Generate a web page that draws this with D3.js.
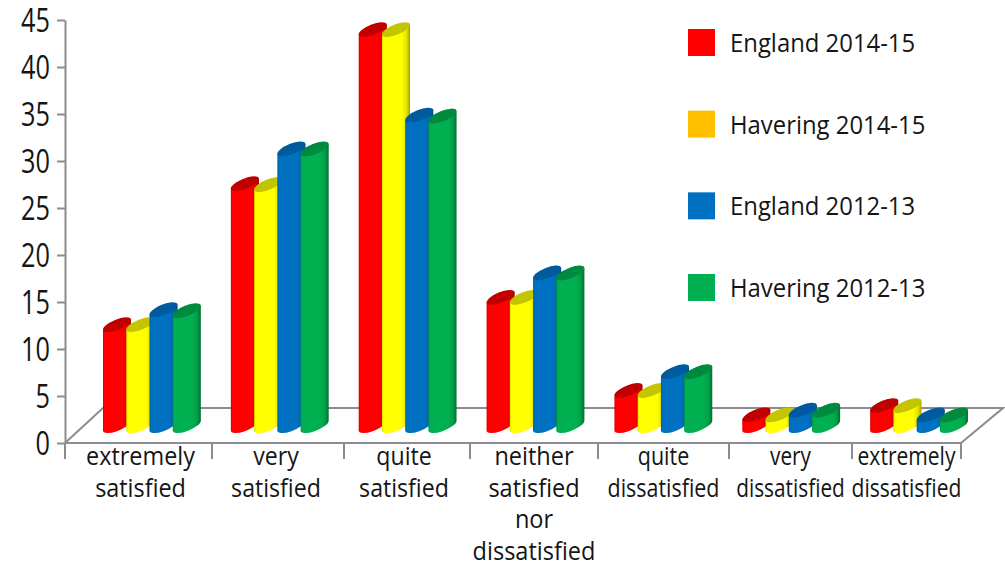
<!DOCTYPE html>
<html><head><meta charset="utf-8"><script src="https://cdn.jsdelivr.net/npm/d3@7"></script>
<style>html,body{margin:0;padding:0;background:#fff}svg{display:block}text{font-family:"Open Sans","Noto Sans",sans-serif;fill:#151515}</style></head><body>
<svg id="c" width="1005" height="563"></svg>
<script>
const categories=[["extremely","satisfied"],["very","satisfied"],["quite","satisfied"],["neither","satisfied","nor","dissatisfied"],["quite","dissatisfied"],["very","dissatisfied"],["extremely","dissatisfied"]];
const seriesNames=["England 2014-15","Havering 2014-15","England 2012-13","Havering 2012-13"];
const england1415=[11.0,26.0,42.4,13.9,4.0,1.4,2.4];
const havering1415=[11.0,25.9,42.4,13.9,4.0,1.4,2.4];
const england1213=[12.6,29.7,33.3,16.5,6.0,1.9,1.4];
const havering1213=[12.5,29.7,33.2,16.5,6.0,1.9,1.4];
const barColors=["#ff0000","#ffff00","#0070c0","#00b050"];
const topColors=["#c00000","#c4c400","#005a9e","#008a40"];
const legendColors=["#ff0000","#ffc000","#0070c0","#00b050"];
const yTicks=[0,5,10,15,20,25,30,35,40,45];
const series=[england1415,havering1415,england1213,havering1213];

const svg=d3.select("#c"), defs=svg.append("defs");
const y=d3.scaleLinear().domain([0,45]).range([443,20]);
const x0=d3.scaleBand().domain(d3.range(7)).range([65,960]);
const x1=d3.scaleBand().domain(d3.range(4)).range([38,131]);
const axisColor="#8c8c90";

// the source axis has uneven category dividers and squeezed labels
const dividers=d3.scaleOrdinal().domain(d3.range(8)).range([65,212,344,470,598,729,852,961]);
const labelNudge=[2,-2,-3,0,0,0,0];
const labelSqueeze=[.9,.89,.89,.905,.825,.80,.81];

series.forEach((s,i)=>{
  const c=d3.color(barColors[i]);
  const g=defs.append("linearGradient").attr("id","g"+i).attr("x1",0).attr("x2",1).attr("y1",0).attr("y2",0);
  [[0,c.darker(.5)],[.06,c],[.7,c],[.88,c.darker(.35)],[1,c.darker(1.3)]].forEach(([o,col])=>g.append("stop").attr("offset",o).attr("stop-color",col));
});

// floor
svg.append("path").attr("fill","none").attr("stroke",axisColor).attr("stroke-width",2)
  .attr("d",`M65,${y(0)}L103,${y(0)-35}L1003,${y(0)-35}L961,${y(0)}`);
// axes
const ya=d3.axisLeft(y).tickValues(yTicks).tickSize(8).tickSizeOuter(0);
const yg=svg.append("g").attr("transform","translate(65,0)").call(ya);
yg.selectAll("path,line").attr("stroke",axisColor).attr("stroke-width",2);
yg.selectAll("text").attr("font-size",32).attr("x",0).attr("dy","0.36em")
  .attr("text-anchor","end").attr("transform",`translate(-15,0) scale(.79,1)`);
svg.append("line").attr("x1",65).attr("x2",961).attr("y1",y(0)).attr("y2",y(0)).attr("stroke",axisColor).attr("stroke-width",2);
d3.range(8).forEach(i=>{
  const X=dividers(i);
  svg.append("line").attr("x1",X).attr("x2",X).attr("y1",y(0)).attr("y2",y(0)+16).attr("stroke",axisColor).attr("stroke-width",2);
});
// cylinders: tilted ellipse caps
const RX=15, RY=5.2, ROT=22, rad=ROT*Math.PI/180;
const ex=Math.sqrt(RX*RX*Math.cos(rad)**2+RY*RY*Math.sin(rad)**2);
const ey=(RX*RX-RY*RY)*Math.sin(rad)*Math.cos(rad)/ex;
const base=433, footLeft=base-2.5, ppu=y(0)-y(1);
series.forEach((s,i)=>{
  s.forEach((v,k)=>{
    const lx=x0(k)+x1(i), rx=lx+2*ex, top=base-v*ppu;
    const g=svg.append("g");
    const arc=`A${RX},${RY} -${ROT}`;
    g.append("path").attr("fill",`url(#g${i})`)
      .attr("d",`M${lx},${top}L${lx},${footLeft}${arc} 0 0 ${rx},${footLeft-2*ey}L${rx},${top-2*ey}Z`);
    g.append("ellipse").attr("cx",(lx+rx)/2).attr("cy",top-ey).attr("rx",RX).attr("ry",RY)
      .attr("transform",`rotate(-${ROT} ${(lx+rx)/2} ${top-ey})`).attr("fill",topColors[i]);
  });
});
// category labels
categories.forEach((lines,k)=>{
  const cx=(dividers(k)+dividers(k+1))/2+labelNudge[k];
  lines.forEach((t,j)=>{
    svg.append("text").attr("x",0).attr("y",0).attr("text-anchor","middle").attr("font-size",26)
      .attr("transform",`translate(${cx},${465+j*31.7}) scale(${labelSqueeze[k]},1)`).text(t);
  });
});
// legend
const ly=d3.scalePoint().domain(d3.range(4)).range([43,288]);
seriesNames.forEach((n,i)=>{
  svg.append("rect").attr("x",688).attr("y",ly(i)-14).attr("width",27).attr("height",27).attr("fill",legendColors[i]);
  svg.append("text").attr("transform",`translate(730,${ly(i)+9}) scale(.955,1)`).attr("font-size",25).text(n);
});
</script></body></html>
